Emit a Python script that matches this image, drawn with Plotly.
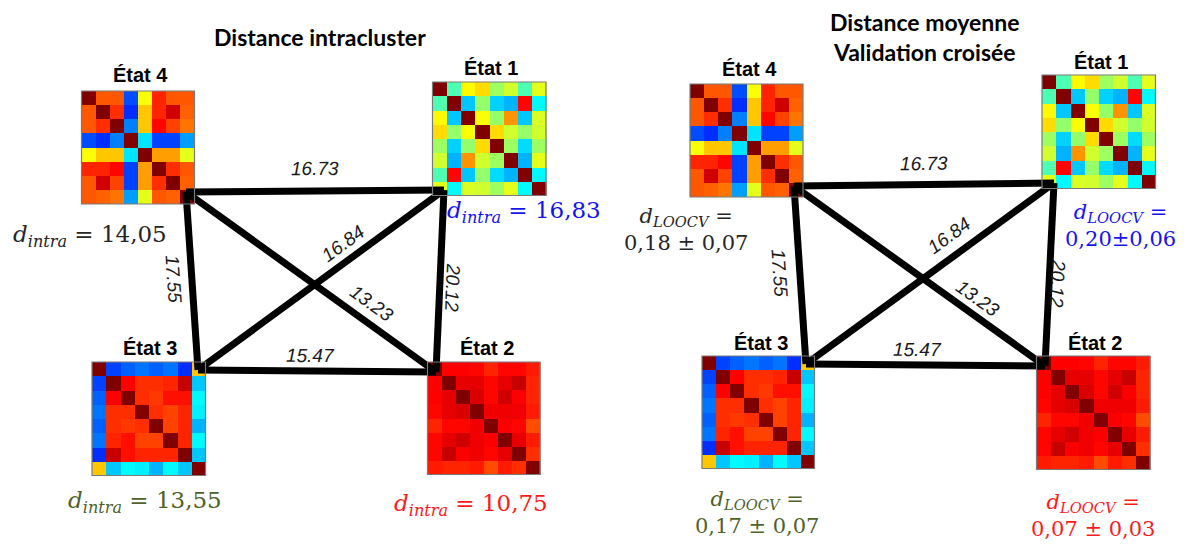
import math
import plotly.graph_objects as go

W, H = 1192, 552

# ---------------- data ----------------
states = ["État 1", "État 2", "État 3", "État 4"]

etat1 = [
    [1.00, 0.45, 0.63, 0.66, 0.53, 0.58, 0.45, 0.60],
    [0.45, 1.00, 0.32, 0.52, 0.33, 0.30, 0.87, 0.37],
    [0.63, 0.32, 1.00, 0.62, 0.52, 0.73, 0.32, 0.59],
    [0.66, 0.52, 0.62, 1.00, 0.66, 0.58, 0.52, 0.58],
    [0.53, 0.33, 0.52, 0.66, 1.00, 0.53, 0.34, 0.53],
    [0.58, 0.30, 0.73, 0.58, 0.53, 1.00, 0.30, 0.60],
    [0.45, 0.87, 0.32, 0.52, 0.34, 0.30, 1.00, 0.37],
    [0.60, 0.37, 0.59, 0.58, 0.53, 0.60, 0.37, 1.00],
]
etat2 = [
    [1.00, 0.875, 0.875, 0.87, 0.84, 0.87, 0.87, 0.85],
    [0.875, 1.00, 0.90, 0.90, 0.87, 0.90, 0.93, 0.84],
    [0.875, 0.90, 1.00, 0.91, 0.87, 0.92, 0.88, 0.84],
    [0.87, 0.90, 0.91, 1.00, 0.89, 0.89, 0.89, 0.85],
    [0.84, 0.87, 0.87, 0.89, 1.00, 0.88, 0.87, 0.80],
    [0.87, 0.90, 0.92, 0.89, 0.88, 1.00, 0.90, 0.85],
    [0.87, 0.93, 0.88, 0.89, 0.87, 0.90, 1.00, 0.83],
    [0.85, 0.84, 0.84, 0.85, 0.80, 0.85, 0.83, 1.00],
]
etat3 = [
    [1.00, 0.19, 0.22, 0.24, 0.22, 0.24, 0.17, 0.68],
    [0.19, 1.00, 0.875, 0.83, 0.83, 0.84, 0.93, 0.32],
    [0.22, 0.875, 1.00, 0.83, 0.82, 0.86, 0.86, 0.37],
    [0.24, 0.83, 0.83, 1.00, 0.83, 0.81, 0.84, 0.36],
    [0.22, 0.83, 0.82, 0.83, 1.00, 0.81, 0.84, 0.30],
    [0.24, 0.84, 0.86, 0.81, 0.81, 1.00, 0.84, 0.37],
    [0.17, 0.93, 0.86, 0.84, 0.84, 0.84, 1.00, 0.32],
    [0.68, 0.32, 0.37, 0.36, 0.30, 0.37, 0.32, 1.00],
]
etat4 = [
    [1.00, 0.79, 0.79, 0.20, 0.62, 0.84, 0.79, 0.79],
    [0.79, 1.00, 0.83, 0.17, 0.68, 0.84, 0.92, 0.78],
    [0.79, 0.83, 1.00, 0.25, 0.68, 0.87, 0.81, 0.76],
    [0.20, 0.17, 0.25, 1.00, 0.35, 0.19, 0.19, 0.28],
    [0.62, 0.68, 0.68, 0.35, 1.00, 0.72, 0.72, 0.60],
    [0.84, 0.84, 0.87, 0.19, 0.72, 1.00, 0.83, 0.79],
    [0.79, 0.92, 0.81, 0.19, 0.72, 0.83, 1.00, 0.78],
    [0.79, 0.78, 0.76, 0.28, 0.60, 0.79, 0.78, 1.00],
]
matrices = {"État 1": etat1, "État 2": etat2, "État 3": etat3, "État 4": etat4}

edge_from = ["État 4", "État 4", "État 4", "État 1", "État 1", "État 3"]
edge_to = ["État 1", "État 3", "État 2", "État 3", "État 2", "État 2"]
edge_dist = ["16.73", "17.55", "13.23", "16.84", "20.12", "15.47"]

d_intra = [16.83, 10.75, 13.55, 14.05]
d_loocv_mean = [0.20, 0.07, 0.17, 0.18]
d_loocv_std = [0.06, 0.03, 0.07, 0.07]

panel_titles = ["Distance intracluster", "Distance moyenne<br>Validation croisée"]

# ---------------- style / layout ----------------
state_colors = {"État 1": "#1414EE", "État 2": "#FF1A1A", "État 3": "#4F6228", "État 4": "#262626"}
jet = [[0.0, "#000080"], [0.125, "#0000FF"], [0.375, "#00FFFF"],
       [0.625, "#FFFF00"], [0.875, "#FF0000"], [1.0, "#800000"]]

panels = [
    dict(  # left
        box={"État 4": (81.5, 91, 113), "État 1": (432.5, 82, 113.5),
             "État 3": (92, 362, 113.5), "État 2": (427.5, 362, 112.5)},
        node={"État 4": (186, 192), "État 1": (444, 190), "État 3": (198, 370), "État 2": (436, 372)},
        name_pos={"État 4": (140, 75), "État 1": (491, 68), "État 3": (150, 348), "État 2": (487, 348)},
        edge_lbl=[(315, 168), (174, 279), (372, 303), (343, 243), (453, 287), (310, 355)],
        title_pos=(320, 37),
        d_pos={"État 1": (524, 212), "État 2": (471, 505), "État 3": (145, 502), "État 4": (90, 236)},
    ),
    dict(  # right
        box={"État 4": (690, 84, 113), "État 1": (1042, 75, 113.5),
             "État 3": (702, 356, 112.5), "État 2": (1036.5, 356, 113.5)},
        node={"État 4": (794, 186), "État 1": (1054, 183), "État 3": (806, 364), "État 2": (1045, 366)},
        name_pos={"État 4": (749, 69), "État 1": (1101, 62), "État 3": (761, 343), "État 2": (1095, 343)},
        edge_lbl=[(924, 163), (780, 273), (978, 298), (949, 235), (1058, 283), (917, 349)],
        title_pos=(925, 37),
        d_pos={"État 1": (1120, 225), "État 2": (1093, 515), "État 3": (757, 512), "État 4": (686, 229)},
    ),
]

fig = go.Figure()
annotations = []
shapes = []

for pi, P in enumerate(panels):
    # connecting lines (below matrices)
    for k in range(len(edge_dist)):
        a, b = P["node"][edge_from[k]], P["node"][edge_to[k]]
        fig.add_trace(go.Scatter(x=[a[0], b[0]], y=[a[1], b[1]], mode="lines",
                                 line=dict(color="black", width=7),
                                 hoverinfo="skip", showlegend=False))
        ang = math.degrees(math.atan2(b[1] - a[1], b[0] - a[0]))
        if ang > 90:
            ang -= 180
        if ang < -90:
            ang += 180
        if abs(abs(ang) - 90) < 10:
            ang = math.degrees(math.atan2(abs(b[1] - a[1]), (b[0] - a[0]) * (1 if b[1] > a[1] else -1)))
        lx, ly = P["edge_lbl"][k]
        annotations.append(dict(x=lx, y=ly, text="<i>%s</i>" % edge_dist[k], showarrow=False,
                                textangle=ang,
                                font=dict(family="Liberation Sans, Arial", size=19, color="#1a1a1a"),
                                xanchor="center", yanchor="middle"))
    # matrices
    for s in states:
        x0, y0, size = P["box"][s]
        n = len(matrices[s])
        c = size / n
        fig.add_trace(go.Heatmap(z=matrices[s], x0=x0 + c / 2, dx=c, y0=y0 + c / 2, dy=c,
                                 colorscale=jet, zmin=0, zmax=1, showscale=False,
                                 hoverinfo="skip"))
        shapes.append(dict(type="rect", x0=x0, x1=x0 + size, y0=y0, y1=y0 + size,
                           xref="x", yref="y", line=dict(color="#7a7a7a", width=1.2), layer="above"))
        nx, ny = P["name_pos"][s]
        annotations.append(dict(x=nx, y=ny, text="<b>%s</b>" % s, showarrow=False,
                                font=dict(family="Liberation Sans, Arial", size=20, color="black"),
                                xanchor="center", yanchor="middle"))
    # title
    tx, ty = P["title_pos"]
    annotations.append(dict(x=tx, y=ty, text="<b>%s</b>" % panel_titles[pi], showarrow=False,
                            font=dict(family="Lato, Open Sans", size=23, color="black"),
                            xanchor="center", yanchor="middle"))
    # distance labels
    for i, s in enumerate(states):
        dx_, dy_ = P["d_pos"][s]
        if pi == 0:
            txt = "<i>d</i><sub><i>intra</i></sub> = " + ("%.2f" % d_intra[i]).replace(".", ",")
            size = 23
        else:
            pm = "±" if s == "État 1" else " ± "
            txt = ("<i>d</i><sub><i>LOOCV</i></sub> =<br>" + ("%.2f" % d_loocv_mean[i]).replace(".", ",")
                   + pm + ("%.2f" % d_loocv_std[i]).replace(".", ","))
            size = 21
        annotations.append(dict(x=dx_, y=dy_, text=txt, showarrow=False,
                                font=dict(family="DejaVu Serif", size=size, color=state_colors[s]),
                                xanchor="center", yanchor="middle", align="center"))

fig.update_layout(
    width=W, height=H, margin=dict(l=0, r=0, t=0, b=0),
    paper_bgcolor="white", plot_bgcolor="white",
    xaxis=dict(range=[0, W], visible=False, fixedrange=True),
    yaxis=dict(range=[H, 0], visible=False, fixedrange=True),
    annotations=annotations, shapes=shapes, showlegend=False,
)

fig.write_html("out.html", config={"displayModeBar": False},
               post_script="document.body.style.margin='0';document.body.style.overflow='hidden';")
